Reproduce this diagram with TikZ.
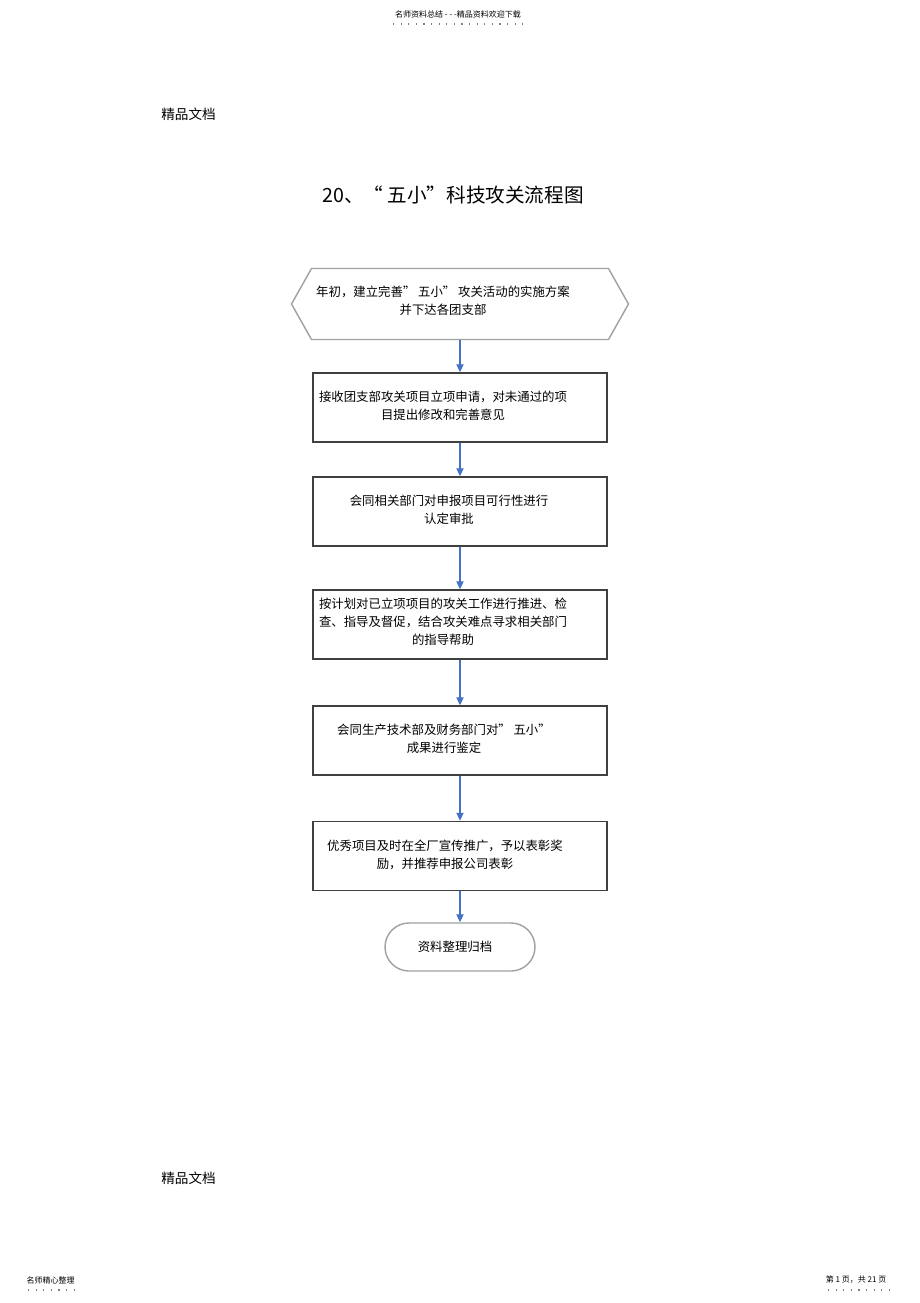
\documentclass[tikz,border=0pt]{standalone}
\usepackage{fontspec}
\setmainfont{Noto Sans CJK SC}
\usetikzlibrary{arrows.meta}

\definecolor{linkblue}{RGB}{68,114,196}
\definecolor{boxgray}{RGB}{64,64,64}
\definecolor{softgray}{RGB}{160,160,160}

\tikzset{every picture/.style={line width=0.5pt}}
\tikzset{
  stepbox/.style={draw=boxgray,line width=0.7pt,minimum width=147pt,minimum height=34.5pt,inner sep=0pt},
  endbox/.style={draw=softgray,line width=0.7pt,rounded corners=12pt,minimum width=75pt,minimum height=24pt,inner sep=0pt},
  boxtext/.style={inner sep=0pt,align=center,font=\fontsize{6.2}{9}\selectfont},
  flow/.style={draw=linkblue,line width=0.6pt,-{Triangle[length=4pt,width=3.6pt]}},
  dotline/.style={draw=gray,line width=0.6pt,dash pattern=on 0.6pt off 3.2pt},
}

\begin{document}
\begin{tikzpicture}[x=0.5pt,y=0.5pt,yscale=-1,xscale=1]
		\useasboundingbox (0,0) rectangle (920,1303);

		% Header
		\node (head) at (458,14) [inner sep=0pt,font=\fontsize{4}{5}\selectfont] {名师资料总结 - - -精品资料欢迎下载};
		\draw [dotline] (393,24) -- (527,24);
		% Text Node
		\node (mark1) at (188.5,114) [inner sep=0pt,font=\fontsize{6.8}{8}\selectfont] {精品文档};
		% Title
		\node (title) at (453,195) [inner sep=0pt,font=\fontsize{9.8}{12}\selectfont] {20、“ 五小”科技攻关流程图};

		%Shape: Hexagon
		\node (hex) at (460,304) [minimum width=168pt,minimum height=35pt,inner sep=0pt] {};
		\draw [draw=softgray,line width=0.7pt] (hex.west) -- ([xshift=10pt]hex.north west) -- ([xshift=-10pt]hex.north east) -- (hex.east) -- ([xshift=-10pt]hex.south east) -- ([xshift=10pt]hex.south west) -- cycle ;
		\node (t0) at (443,301) [boxtext] {年初，建立完善” 五小” 攻关活动的实施方案\\并下达各团支部};

		%Shape: Rectangles
		\node (b1) at (460,407.5) [stepbox] {};
		\node (b2) at (460,511.5) [stepbox] {};
		\node (b3) at (460,624.5) [stepbox] {};
		\node (b4) at (460,740.5) [stepbox] {};
		\node (b5) at (460,856) [stepbox] {};
		%Shape: Terminal
		\node (end) at (460,947) [endbox] {};

		% Text Node
		\node (t1) at (443,405.5) [boxtext] {接收团支部攻关项目立项申请，对未通过的项\\目提出修改和完善意见};
		\node (t2) at (449,510) [boxtext] {会同相关部门对申报项目可行性进行\\认定审批};
		\node (t3) at (443,622) [boxtext] {按计划对已立项项目的攻关工作进行推进、检\\查、指导及督促，结合攻关难点寻求相关部门\\的指导帮助};
		\node (t4) at (444,739) [boxtext] {会同生产技术部及财务部门对” 五小”\\成果进行鉴定};
		\node (t5) at (445,855) [boxtext] {优秀项目及时在全厂宣传推广，予以表彰奖\\励，并推荐申报公司表彰};
		\node (t6) at (455,947) [boxtext] {资料整理归档};

		%Straight Lines
		\draw [flow] (hex.south) -- (b1.north) ;
		\draw [flow] (b1.south) -- (b2.north) ;
		\draw [flow] (b2.south) -- (b3.north) ;
		\draw [flow] (b3.south) -- (b4.north) ;
		\draw [flow] (b4.south) -- (b5.north) ;
		\draw [flow] (b5.south) -- (end.north) ;

		% Text Node
		\node (mark2) at (188.5,1178) [inner sep=0pt,font=\fontsize{6.8}{8}\selectfont] {精品文档};

		% Footer
		\node (footl) at (50.5,1280) [inner sep=0pt,font=\fontsize{4}{5}\selectfont] {名师精心整理};
		\draw [dotline] (28,1290) -- (75,1290);
		\node (footr) at (856,1280) [inner sep=0pt,font=\fontsize{4}{5}\selectfont] {第 1 页，共 21 页};
		\draw [dotline] (828,1290) -- (892,1290);
	\end{tikzpicture}
\end{document}
